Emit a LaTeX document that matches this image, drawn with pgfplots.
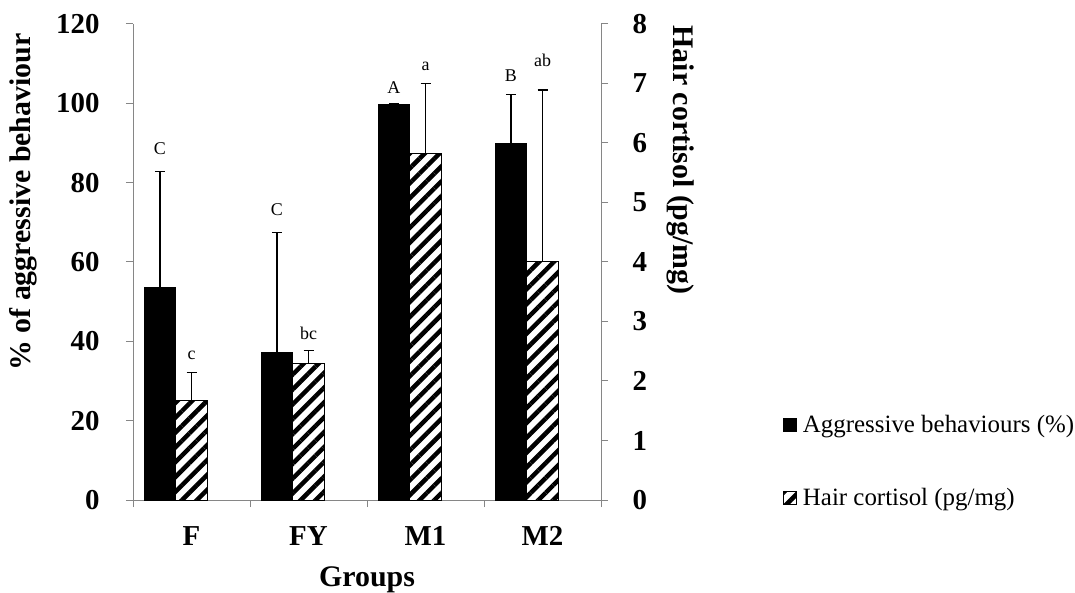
\documentclass[border=0pt]{standalone}
\usepackage{fontspec}
\setmainfont{Liberation Serif}
\usepackage{pgfplots}
\usepackage{pgfplotstable}
\pgfplotsset{compat=1.18}
\usetikzlibrary{patterns.meta}
\definecolor{axgray}{RGB}{134,134,134}

\pgfplotstableread{
x y err
-0.27 53.5 29.4
0.73 37.2 30.2
1.73 99.7 0.3
2.73 89.8 12.5
}\aggr
\pgfplotstableread{
x y err
0 1.67 0.47
1 2.29 0.22
2 5.82 1.18
3 4.01 2.88
}\cort

\tikzset{hatch/.style={pattern={Lines[angle=45,distance=10.5bp,line width=4.5bp]}, pattern color=black}}
\pgfplotsset{
  sqlegend/.style={legend image code/.code={\draw[##1] (0bp,-7bp) rectangle (13bp,6bp);}},
  common/.style={
    at={(133bp,93bp)}, anchor=south west,
    scale only axis, width=468bp, height=476bp,
    xmin=-0.5, xmax=3.5, ymin=0,
    axis line style={axgray, line width=1pt, -},
    tick style={axgray, line width=1pt},
    tick align=outside, major tick length=7bp,
    ticklabel style={font=\bfseries\fontsize{29}{29}\selectfont},
    /pgf/number format/assume math mode=true,
    label style={font=\bfseries\fontsize{30}{30}\selectfont},
    clip=false,
  },
}

\begin{document}
\begin{tikzpicture}
\path[use as bounding box] (0,0) rectangle (1075bp,593bp);
\begin{axis}[common,
  ymax=120,
  axis y line*=left, axis x line*=bottom,
  ytick={0,20,...,120},
  yticklabel style={xshift=-23bp},
  xtick={-0.5,0.5,1.5,2.5,3.5}, xticklabels={},
  extra x ticks={0,1,2,3}, extra x tick labels={F,FY,M1,M2},
  extra x tick style={major tick length=0pt, tick label style={yshift=-23bp}},
  xlabel={Groups},
  xlabel style={at={(axis description cs:0.5,-0.168)}, anchor=center},
  ylabel={\% of aggressive behaviour},
  ylabel style={at={(axis description cs:-0.235,0.626)}, anchor=center},
]
\addplot[ybar, bar width=0.27, bar shift=0pt, fill=black, draw=black, line width=1pt,
  error bars/.cd, y dir=plus, y explicit,
  error bar style={black, line width=1.2pt},
  error mark options={black, rotate=90, mark size=5bp, line width=1.2pt}]
  table[x=x, y=y, y error=err]{\aggr};
\node[font=\fontsize{18}{18}\selectfont] at (axis cs:-0.27,88.7) {C};
\node[font=\fontsize{18}{18}\selectfont] at (axis cs:0,36.5) {c};
\node[font=\fontsize{18}{18}\selectfont] at (axis cs:0.73,73.1) {C};
\node[font=\fontsize{18}{18}\selectfont] at (axis cs:1,42.1) {bc};
\node[font=\fontsize{18}{18}\selectfont] at (axis cs:1.73,103.9) {A};
\node[font=\fontsize{18}{18}\selectfont] at (axis cs:2,109.2) {a};
\node[font=\fontsize{18}{18}\selectfont] at (axis cs:2.73,107.1) {B};
\node[font=\fontsize{18}{18}\selectfont] at (axis cs:3,110.9) {ab};
\end{axis}
\begin{axis}[common,
  ymax=8,
  axis y line*=right, axis x line=none,
  ytick={0,1,...,8},
  yticklabel style={xshift=21bp},
  ylabel={Hair cortisol (pg/mg)},
  ylabel style={at={(axis description cs:1.169,0.714)}, anchor=center, rotate=-180},
  legend style={draw=none, fill=none, at={(axis description cs:1.382,0.082)}, anchor=west,
    font=\fontsize{25}{25}\selectfont, row sep=50bp,
    /tikz/every odd column/.append style={column sep=4bp}},
  legend cell align=left,
]
\addlegendimage{sqlegend, fill=black, draw=black}
\addlegendentry{Aggressive behaviours (\%)}
\addlegendimage{sqlegend, draw=black, line width=1pt, hatch}
\addlegendentry{Hair cortisol (pg/mg)}
\addplot[ybar, bar width=0.27, bar shift=0pt, fill=white, draw=black, line width=1pt,
  postaction={hatch},
  error bars/.cd, y dir=plus, y explicit,
  error bar style={black, line width=1.2pt},
  error mark options={black, rotate=90, mark size=5bp, line width=1.2pt}]
  table[x=x, y=y, y error=err]{\cort};
\end{axis}
\end{tikzpicture}
\end{document}
